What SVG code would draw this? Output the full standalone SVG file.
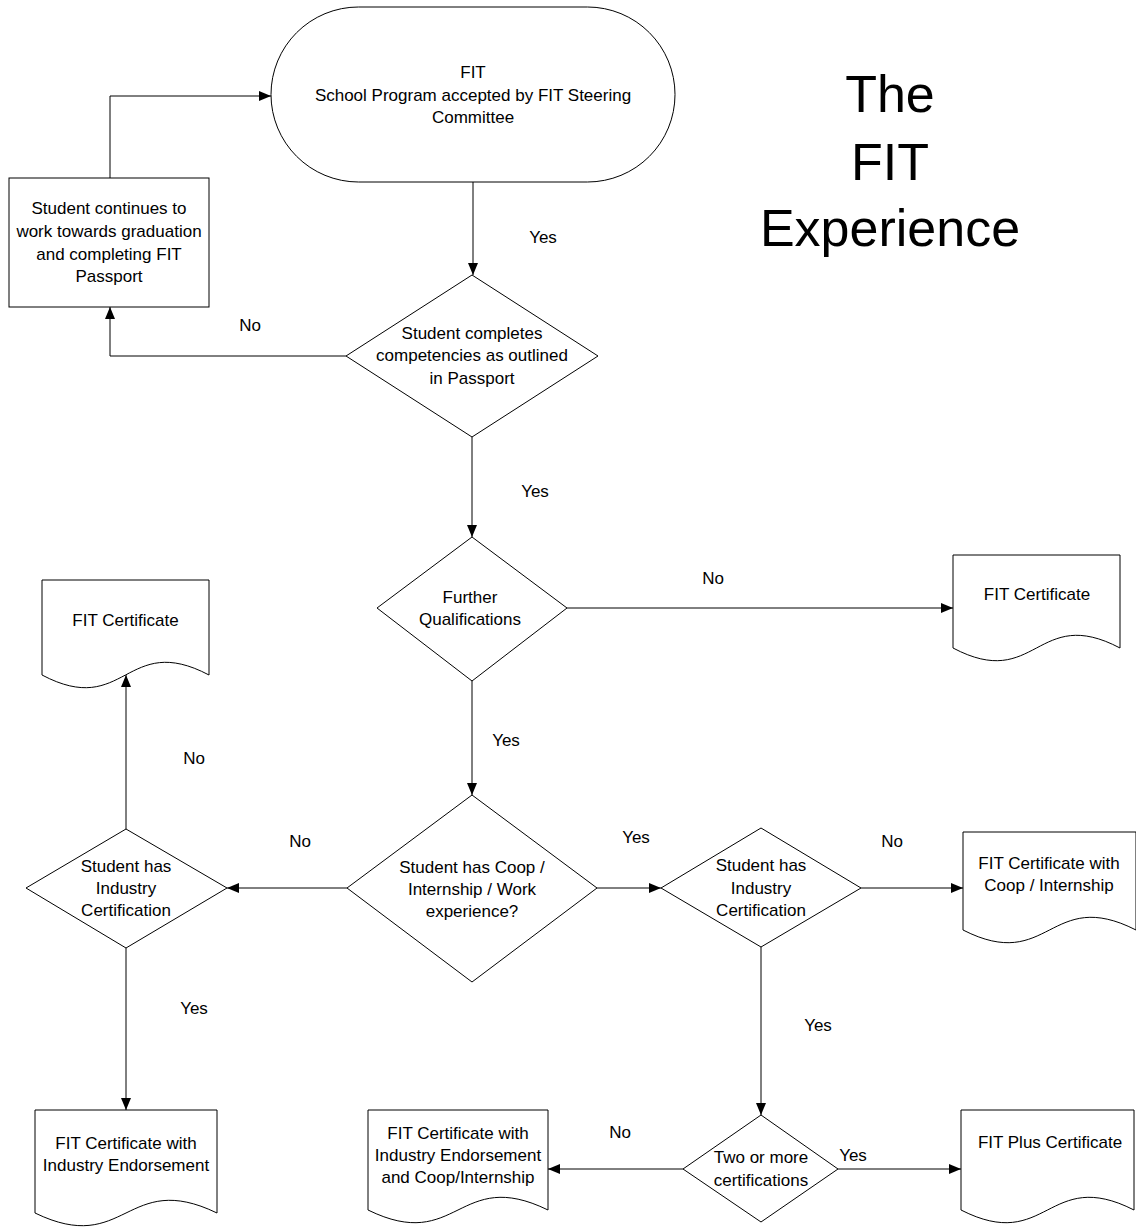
<svg xmlns="http://www.w3.org/2000/svg" width="1136" height="1228" viewBox="0 0 1136 1228">
<style>
.shape{fill:#fff;stroke:#000;stroke-width:1}
.t{font-family:"Liberation Sans",Arial,sans-serif;font-size:17px;fill:#000;text-anchor:middle}
.title{font-family:"Liberation Sans",Arial,sans-serif;font-size:52px;fill:#000;text-anchor:middle}
.c{fill:none;stroke:#000;stroke-width:1;marker-end:url(#ah)}
</style>
<defs>
<marker id="ah" markerUnits="userSpaceOnUse" markerWidth="12" markerHeight="10" refX="12" refY="5" orient="auto">
<path d="M0,0 L12,5 L0,10 Z" fill="#000"/>
</marker>
</defs>
<rect width="1136" height="1228" fill="#fff"/>

<g id="title">
<text class="title" x="890" y="112">The</text>
<text class="title" x="890" y="180">FIT</text>
<text class="title" x="890" y="246">Experience</text>
</g>

<g id="connectors">
<path class="c" d="M473,182 V275"/>
<path class="c" d="M346,356 H110 V307"/>
<path class="c" d="M110,178 V96 H271"/>
<path class="c" d="M472,437 V537"/>
<path class="c" d="M567,608 H953"/>
<path class="c" d="M472,681 V795"/>
<path class="c" d="M347,888 H227"/>
<path class="c" d="M126,829 V675"/>
<path class="c" d="M126,948 V1110"/>
<path class="c" d="M597,888 H661"/>
<path class="c" d="M861,888 H963"/>
<path class="c" d="M761,947 V1115"/>
<path class="c" d="M683,1169 H548"/>
<path class="c" d="M838,1169 H961"/>
<text class="t" x="543" y="243">Yes</text>
<text class="t" x="250" y="331">No</text>
<text class="t" x="535" y="497">Yes</text>
<text class="t" x="713" y="584">No</text>
<text class="t" x="506" y="746">Yes</text>
<text class="t" x="194" y="764">No</text>
<text class="t" x="300" y="847">No</text>
<text class="t" x="636" y="843">Yes</text>
<text class="t" x="892" y="847">No</text>
<text class="t" x="194" y="1014">Yes</text>
<text class="t" x="818" y="1031">Yes</text>
<text class="t" x="620" y="1138">No</text>
<text class="t" x="853" y="1161">Yes</text>
</g>

<g id="start">
<rect class="shape" x="271" y="7" width="404" height="175" rx="87.5" ry="87.5"/>
<text class="t" x="473" y="78">FIT</text>
<text class="t" x="473" y="101">School Program accepted by FIT Steering</text>
<text class="t" x="473" y="123">Committee</text>
</g>

<g id="continue">
<rect class="shape" x="9" y="178" width="200" height="129"/>
<text class="t" x="109" y="214">Student continues to</text>
<text class="t" x="109" y="237">work towards graduation</text>
<text class="t" x="109" y="260">and completing FIT</text>
<text class="t" x="109" y="282">Passport</text>
</g>

<g id="d-competencies">
<path class="shape" d="M472,275 L598,356 L472,437 L346,356 Z"/>
<text class="t" x="472" y="339">Student completes</text>
<text class="t" x="472" y="361">competencies as outlined</text>
<text class="t" x="472" y="384">in Passport</text>
</g>

<g id="d-further">
<path class="shape" d="M472,537 L567,608 L472,681 L377,608 Z"/>
<text class="t" x="470" y="603">Further</text>
<text class="t" x="470" y="625">Qualifications</text>
</g>

<g id="doc-fit-right">
<path class="shape" d="M953,555 H1120 V648 C1036.5,604 1036.5,692 953,648 Z"/>
<text class="t" x="1037" y="600">FIT Certificate</text>
</g>

<g id="d-coop">
<path class="shape" d="M472,795 L597,888 L472,982 L347,888 Z"/>
<text class="t" x="472" y="873">Student has Coop /</text>
<text class="t" x="472" y="895">Internship / Work</text>
<text class="t" x="472" y="917">experience?</text>
</g>

<g id="d-industry-right">
<path class="shape" d="M761,828 L861,888 L761,947 L661,888 Z"/>
<text class="t" x="761" y="871">Student has</text>
<text class="t" x="761" y="894">Industry</text>
<text class="t" x="761" y="916">Certification</text>
</g>

<g id="d-industry-left">
<path class="shape" d="M126,829 L227,888 L126,948 L26,888 Z"/>
<text class="t" x="126" y="872">Student has</text>
<text class="t" x="126" y="894">Industry</text>
<text class="t" x="126" y="916">Certification</text>
</g>

<g id="doc-fit-left">
<path class="shape" d="M42,580 H209 V675 C125.5,631 125.5,719 42,675 Z"/>
<text class="t" x="125.5" y="626">FIT Certificate</text>
</g>

<g id="doc-coop">
<path class="shape" d="M963,832 H1136 V930 C1049.5,886 1049.5,974 963,930 Z"/>
<text class="t" x="1049" y="869">FIT Certificate with</text>
<text class="t" x="1049" y="891">Coop / Internship</text>
</g>

<g id="doc-industry">
<path class="shape" d="M35,1110 H217 V1213 C126,1169 126,1257 35,1213 Z"/>
<text class="t" x="126" y="1149">FIT Certificate with</text>
<text class="t" x="126" y="1171">Industry Endorsement</text>
</g>

<g id="d-two">
<path class="shape" d="M761,1115 L838,1169 L761,1222 L683,1169 Z"/>
<text class="t" x="761" y="1163">Two or more</text>
<text class="t" x="761" y="1186">certifications</text>
</g>

<g id="doc-industry-coop">
<path class="shape" d="M368,1110 H548 V1210 C458,1166 458,1254 368,1210 Z"/>
<text class="t" x="458" y="1139">FIT Certificate with</text>
<text class="t" x="458" y="1161">Industry Endorsement</text>
<text class="t" x="458" y="1183">and Coop/Internship</text>
</g>

<g id="doc-plus">
<path class="shape" d="M961,1110 H1134 V1210 C1047.5,1166 1047.5,1254 961,1210 Z"/>
<text class="t" x="1050" y="1148">FIT Plus Certificate</text>
</g>
</svg>
